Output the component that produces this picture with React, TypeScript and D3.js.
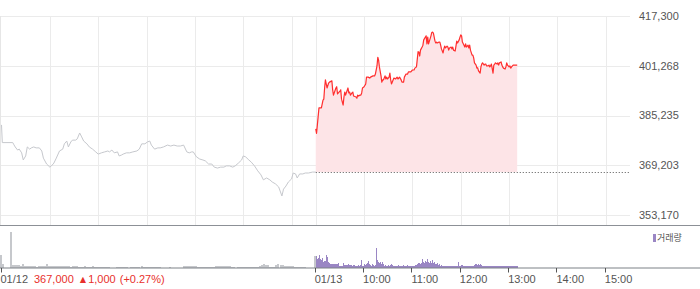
import React from "react";
import * as d3 from "d3";

// ---- data ----
const yTickValues = [353170, 369203, 385235, 401268, 417300];
const prevClose = 367000;
const closePrice = 367000;
const changeAbs = 1000;
const changePct = "+0.27%";

const axisTickMinutes = [0, 390, 450, 510, 570, 630, 690, 750];
const axisTickLabels = ["01/12", "01/13", "10:00", "11:00", "12:00", "13:00", "14:00", "15:00"];
const gridMinutes = [60, 120, 180, 240, 300, 360, 390, 450, 510, 570, 630, 690, 750];

// day 1 (01/12): minutes since 09:00, price
const day1Min = [0,1,14,15,17,20,22,25,27,30,32,35,37,40,43,47,50,52,56,60,62,65,68,72,76,78,81,83,86,88,92,94,97,99,102,106,109,113,117,120,124,128,132,134,137,140,144,146,149,151,155,159,163,168,171,174,178,181,184,186,190,194,197,201,206,210,214,218,222,226,230,233,236,238,242,246,250,253,257,261,264,268,272,276,279,283,287,290,294,298,300,303,307,310,314,318,322,325,329,333,336,340,344,348,350,353,356,360,362,365,367,370,374,377,381,386,390];
const day1Price = [382200,376500,376500,376000,375100,374100,374400,373200,370900,372200,375100,374400,374800,375100,374800,374800,373800,371500,369600,368600,369000,369900,371500,373800,374400,376100,377000,375100,376700,377300,377300,377700,379600,378600,377000,376100,375100,374400,373500,372800,373200,373500,373800,373500,374100,373200,373500,372200,372500,372800,373200,373200,373500,373800,374400,376100,376100,376700,377000,375700,374400,374800,374800,375100,375700,375400,375700,375400,375400,375700,373500,373200,373500,373500,371900,371200,370900,370600,369600,369600,368600,368300,368600,368600,369000,369000,368600,369000,369900,370900,372200,371900,370900,370200,369000,367400,366100,364500,365100,364500,363800,363200,362200,359300,361500,362500,363800,364800,366700,366400,365100,366400,366400,366700,366700,367000,367000];

// day 2 (01/13): minutes since 09:00, price
const day2Min = [0,1,2,4,7,9,10,11,12,14,16,17,20,21,22,25,26,27,30,31,32,34,35,36,37,40,41,42,43,45,46,47,50,51,52,53,55,56,57,58,60,62,63,65,67,68,71,73,74,76,77,78,79,81,82,83,84,86,87,88,89,91,92,93,94,96,97,99,101,102,104,106,107,109,110,112,114,115,118,120,122,123,125,127,128,129,130,132,133,134,137,138,139,140,143,144,145,146,148,149,150,151,153,154,155,156,158,159,160,161,163,164,165,166,168,169,170,171,173,174,175,176,178,179,180,181,182,184,185,186,187,189,190,191,192,194,195,196,197,199,200,201,202,204,205,206,207,209,210,211,212,214,215,216,217,218,220,221,222,223,225,226,227,228,230,231,232,233,235,236,237,238,240,241,242,243,245,247,250];
const day2Price = [380900,379500,382200,387700,387700,390200,390500,394100,396700,394100,395700,396000,396400,393500,391800,394100,394500,392200,393100,393500,390500,388600,391200,392800,391800,394100,392500,392800,391800,392500,392800,391500,391200,390800,391800,391500,391800,391800,392500,394100,394500,395400,397600,397600,397300,397600,398000,398000,398600,401200,404000,403100,400900,398000,396000,396700,396700,398000,397000,397600,397000,397600,398900,396700,395400,396700,397300,397000,397600,397000,397600,396700,396000,396000,397600,398600,398600,399300,399300,399900,399900,400500,400900,405800,405700,404400,406300,407300,407900,409600,410900,408300,410500,408300,410900,412000,412100,411800,409200,408600,408900,408600,408900,408900,407900,406700,405400,406700,407600,407000,407600,407300,406300,407000,407300,406700,407300,406300,406000,407600,409200,408600,409600,410500,411200,410900,408900,407900,407300,408300,407300,407900,407000,407900,406300,404700,404700,403800,402200,401500,400500,400600,399600,398900,400900,401800,402200,401500,401800,401800,401200,401200,401500,400900,401200,401800,398900,401500,401800,402200,401800,402200,401500,402200,402500,401500,400900,400500,400200,400900,402200,401500,400900,401200,400500,400900,401500,401500,401500];

// volume, day 1: one bar per 2.5 minutes from 09:00
const vol1Step = 2.5;
const vol1 = [1300,400,0,0,0,3600,220,220,300,220,170,370,150,150,120,150,150,130,70,130,130,120,130,370,170,170,150,130,130,120,130,200,200,120,120,100,120,120,200,100,100,100,120,100,100,100,120,100,100,100,100,70,100,100,70,0,0,0,100,100,100,100,70,70,0,70,70,100,100,100,120,100,100,100,100,70,100,100,100,100,0,0,0,0,70,0,0,0,0,0,0,130,130,130,130,130,130,130,100,100,100,100,100,100,100,100,100,130,130,130,130,130,130,130,130,100,100,0,100,100,100,100,100,100,100,100,100,100,100,150,270,330,270,270,100,100,100,230,330,230,230,200,200,200,200,200,70,70,70,70,70,70,0,0,0,0,1200];
// volume, day 2: one bar per 1.25 minutes from 09:00
const vol2Step = 1.25;
const vol2 = [1200,900,1000,1300,900,800,1000,570,700,670,1300,1070,570,470,400,400,330,400,330,330,400,330,470,200,200,200,200,470,270,230,230,230,330,230,230,230,170,230,230,170,170,170,230,170,300,800,130,170,400,270,330,470,670,330,270,200,400,270,200,270,1930,730,570,470,600,400,530,330,200,270,170,200,270,200,300,330,270,200,170,200,200,170,270,170,200,200,170,270,200,200,170,270,200,200,170,200,170,200,170,270,200,330,470,330,470,900,570,470,670,530,900,570,470,670,500,730,470,570,400,330,470,270,330,200,270,200,200,200,200,170,170,130,130,130,130,130,200,200,200,200,200,570,200,200,270,270,200,200,200,200,130,130,200,200,130,200,200,270,330,400,270,330,270,330,270,200,200,200,130,200,130,130,130,130,130,200,130,130,130,130,200,130,130,200,130,130,130,200,130,130,130,130,130,200,130,130,130,200,130,130,200];

const FONT = "'Liberation Sans', Arial, 'Noto Sans CJK KR', sans-serif";

export default function App() {
  const W = 700, H = 289;
  const x = d3.scaleLinear().domain([0, 780]).range([1.5, 630]);
  const y = d3.scaleLinear().domain([353170, 417300]).range([215, 16]);
  const yv = d3.scaleLinear().domain([0, 3950]).range([267.5, 228]);
  const fmt = d3.format(",");

  const d1 = day1Min.map((m, i) => [m, day1Price[i]] as [number, number]);
  const d2 = day2Min.map((m, i) => [390 + m, day2Price[i]] as [number, number]);

  const line = d3.line<[number, number]>().x(d => x(d[0])).y(d => y(d[1]));
  const area = d3.area<[number, number]>().x(d => x(d[0])).y0(y(prevClose)).y1(d => y(d[1]));

  const px = (v: number) => Math.round(v) + 0.5;

  return (
    <svg width={W} height={H} style={{ position: "fixed", left: 0, top: 0, display: "block", background: "#fff" }} fontFamily={FONT}>
      {/* horizontal grid */}
      {yTickValues.map(v => (
        <line key={"h" + v} x1={0} x2={630} y1={px(y(v))} y2={px(y(v))} stroke="#ebebeb" strokeWidth={1} />
      ))}
      {/* vertical grid */}
      <line x1={0.5} x2={0.5} y1={16} y2={225} stroke="#e6e6e6" />
      {gridMinutes.map(m => (
        <line key={"v" + m} x1={px(x(m))} x2={px(x(m))} y1={16} y2={225} stroke="#ebebeb" />
      ))}

      {/* day 2 area */}
      <path d={area(d2) || ""} fill="#fde4e7" />
      {/* previous close dotted line */}
      <line x1={x(390)} x2={630} y1={px(y(prevClose))} y2={px(y(prevClose))} stroke="#555" strokeWidth={1} strokeDasharray="1,2" />
      {/* day 1 line */}
      <path d={line(d1) || ""} fill="none" stroke="#c6c8cd" strokeWidth={1} />
      {/* day 2 line */}
      <path d={line(d2) || ""} fill="none" stroke="#ff2e2e" strokeWidth={1.2} strokeLinejoin="round" />

      {/* y labels */}
      {yTickValues.map(v => (
        <text key={"t" + v} x={639} y={y(v)} dy="0.35em" fontSize={11} fill="#555">{fmt(v)}</text>
      ))}

      {/* panel separator */}
      <line x1={0} x2={700} y1={225.5} y2={225.5} stroke="#8c9096" />

      {/* volume bars */}
      <g shapeRendering="crispEdges">
        {vol1.map((v, i) => v > 0 ? (
          <rect key={"a" + i} x={x(i * vol1Step) - 2} width={2} y={yv(v)} height={yv(0) - yv(v)} fill="#c6c8cc" />
        ) : null)}
        {vol2.map((v, i) => v > 0 ? (
          <rect key={"b" + i} x={x(390 + i * vol2Step)} width={1.05} y={yv(v)} height={yv(0) - yv(v)} fill="#9a86c4" />
        ) : null)}
      </g>
      <line x1={0} x2={700} y1={268} y2={268} stroke="#7d8187" />
      {axisTickMinutes.map(m => (
        <line key={"k" + m} x1={px(x(m)) - 1} x2={px(x(m)) - 1} y1={268} y2={272.5} stroke="#555" />
      ))}
      {axisTickMinutes.map((m, i) => (
        <text key={"l" + m} x={Math.max(0, x(m) - 1)} y={283} fontSize={11} fill="#555">{axisTickLabels[i]}</text>
      ))}

      {/* summary */}
      <text x={34} y={283} fontSize={11} fill="#e8302c">
        {fmt(closePrice)}
        <tspan dx={4} fontSize={10.5}>▲</tspan>
        <tspan>{fmt(changeAbs)}</tspan>
        <tspan dx={4}>({changePct})</tspan>
      </text>

      {/* legend */}
      <rect x={653} y={234} width={3} height={8} fill="#9a86c4" />
      <text x={657} y={238} dy="0.35em" fontSize={9} fill="#555" fontFamily="'Noto Sans CJK KR', sans-serif">거래량</text>
    </svg>
  );
}
